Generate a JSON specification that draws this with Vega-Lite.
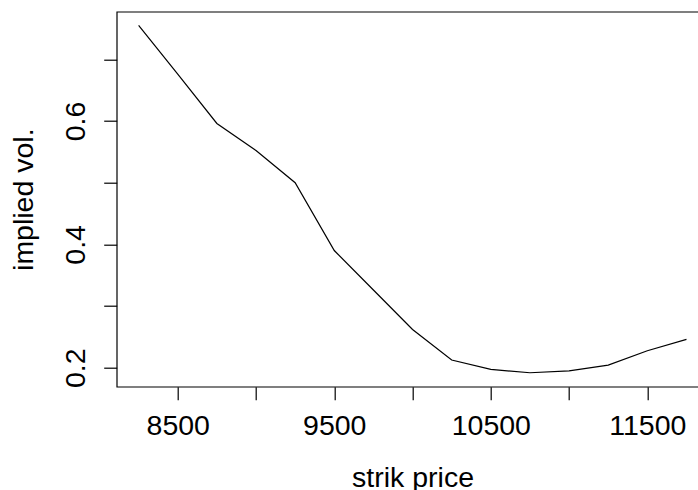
{
  "$schema": "https://vega.github.io/schema/vega-lite/v6.json",
  "autosize": {"type": "none"},
  "padding": {"left": 116.7, "top": 11.7, "right": 0, "bottom": 103.3},
  "width": 591.7,
  "height": 375,
  "background": "white",
  "config": {
    "font": "Liberation Sans",
    "view": {"stroke": "black", "strokeWidth": 1.2},
    "axis": {
      "grid": false,
      "domain": false,
      "tickColor": "black",
      "tickWidth": 1.2,
      "tickSize": 13,
      "labelFont": "Liberation Sans",
      "labelFontSize": 28.5,
      "labelColor": "black",
      "titleFont": "Liberation Sans",
      "titleFontSize": 28.5,
      "titleFontWeight": "normal",
      "titleColor": "black"
    }
  },
  "data": {
    "values": [
      {"strike": 8250, "vol": 0.755},
      {"strike": 8500, "vol": 0.676},
      {"strike": 8750, "vol": 0.596},
      {"strike": 9000, "vol": 0.552},
      {"strike": 9250, "vol": 0.500},
      {"strike": 9500, "vol": 0.390},
      {"strike": 9750, "vol": 0.326},
      {"strike": 10000, "vol": 0.262},
      {"strike": 10250, "vol": 0.2125},
      {"strike": 10500, "vol": 0.1974},
      {"strike": 10750, "vol": 0.1919},
      {"strike": 11000, "vol": 0.1951},
      {"strike": 11250, "vol": 0.2044},
      {"strike": 11500, "vol": 0.2276},
      {"strike": 11750, "vol": 0.246}
    ]
  },
  "mark": {"type": "line", "color": "black", "strokeWidth": 1.2},
  "encoding": {
    "x": {
      "field": "strike",
      "type": "quantitative",
      "scale": {"domain": [8110, 11890], "nice": false, "zero": false},
      "axis": {
        "title": "strik price",
        "values": [8500, 9000, 9500, 10000, 10500, 11000, 11500],
        "format": "d",
        "labelExpr": "datum.value % 1000 == 500 ? datum.label : ''",
        "labelBaseline": "alphabetic",
        "labelPadding": 35.3,
        "labelFlush": false,
        "labelOverlap": false,
        "titleBaseline": "alphabetic",
        "titleY": 100.3
      }
    },
    "y": {
      "field": "vol",
      "type": "quantitative",
      "scale": {"domain": [0.1693, 0.7771], "nice": false, "zero": false},
      "axis": {
        "title": "implied vol.",
        "values": [0.2, 0.3, 0.4, 0.5, 0.6, 0.7],
        "format": ".1f",
        "labelExpr": "indexof(['0.2', '0.4', '0.6'], datum.label) >= 0 ? datum.label : ''",
        "labelAngle": 270,
        "labelAlign": "center",
        "labelBaseline": "alphabetic",
        "labelPadding": 18.7,
        "labelFlush": false,
        "labelOverlap": false,
        "titleAngle": 270,
        "titleAlign": "center",
        "titleBaseline": "alphabetic",
        "titleX": -83.7,
        "titleY": 187.5
      }
    }
  }
}
